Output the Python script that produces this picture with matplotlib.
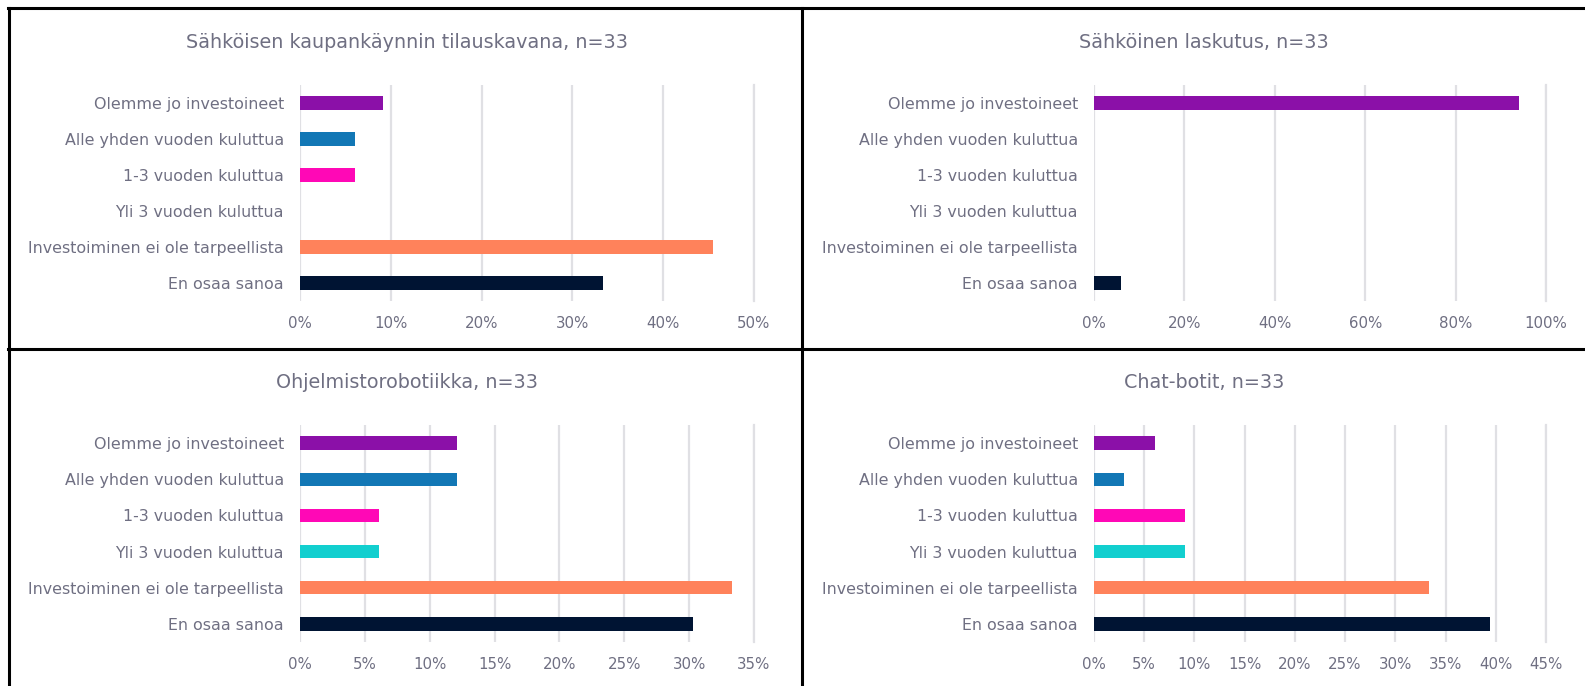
import matplotlib
matplotlib.use("Agg")
import matplotlib.pyplot as plt
from matplotlib.lines import Line2D
from matplotlib.ticker import PercentFormatter

# answer categories (top to bottom) and their bar colours
categories = ["Olemme jo investoineet", "Alle yhden vuoden kuluttua",
              "1-3 vuoden kuluttua", "Yli 3 vuoden kuluttua",
              "Investoiminen ei ole tarpeellista", "En osaa sanoa"]
colors = ["#8b10a8", "#1277b5", "#ff08b6", "#12cfcf", "#ff825b", "#001433"]

n = 33
# share of respondents, percent
tilauskanava = [9.09, 6.06, 6.06, 0.0, 45.45, 33.33]
laskutus = [93.94, 0.0, 0.0, 0.0, 0.0, 6.06]
robotiikka = [12.12, 12.12, 6.06, 6.06, 33.33, 30.30]
chatbotit = [6.06, 3.03, 9.09, 9.09, 33.33, 39.39]

titles = ["Sähköisen kaupankäynnin tilauskavana", "Sähköinen laskutus",
          "Ohjelmistorobotiikka", "Chat-botit"]
series = [tilauskanava, laskutus, robotiikka, chatbotit]
ticks = [[0, 10, 20, 30, 40, 50], [0, 20, 40, 60, 80, 100],
         [0, 5, 10, 15, 20, 25, 30, 35], [0, 5, 10, 15, 20, 25, 30, 35, 40, 45]]

W, H = 1585, 686
TXT = "#6f6f82"
GRID = "#e0e0e4"

fig = plt.figure(figsize=(W / 100, H / 100), dpi=100)

# axes boxes in pixels: left, right, top, bottom
boxes = [(300, 754, 85, 301), (1094, 1546, 85, 301),
         (300, 754, 425, 642), (1094, 1546, 425, 642)]
title_pos = [(407, 42.5), (1204, 42.5), (407, 382), (1204, 382)]

for vals, title, tk, (l, r, t, b), (tx, ty) in zip(series, titles, ticks, boxes, title_pos):
    ax = fig.add_axes([l / W, 1 - b / H, (r - l) / W, (b - t) / H])
    y = range(len(categories))
    ax.barh(y, vals, height=0.37, color=colors, zorder=3)
    ax.set_ylim(5.5, -0.5)
    ax.set_xlim(0, tk[-1])
    ax.set_xticks(tk)
    ax.xaxis.set_major_formatter(PercentFormatter(decimals=0))
    ax.set_yticks(list(y))
    ax.set_yticklabels(categories, fontsize=11.4)
    ax.grid(axis="x", color=GRID, lw=1.6, zorder=0)
    ax.set_axisbelow(True)
    for s in ax.spines.values():
        s.set_visible(False)
    ax.tick_params(length=0, labelcolor=TXT)
    ax.tick_params(axis="x", pad=11, labelsize=10.8)
    ax.tick_params(axis="y", pad=11.5)
    # keep the last gridline visible at the right edge
    ax.axvline(tk[-1], color=GRID, lw=1.6, zorder=0, clip_on=False)
    fig.text(tx / W, 1 - ty / H, f"{title}, n={n}", ha="center", va="center",
             fontsize=13.8, color=TXT)

# panel frame
frame = dict(color="black", lw=2.2)
for (x0, y0, x1, y1) in [(8, 8, W, 8), (8, 349, W, 349), (9, 8, 9, H), (802, 8, 802, H)]:
    fig.add_artist(Line2D([x0 / W, x1 / W], [1 - y0 / H, 1 - y1 / H], **frame))

fig.savefig("out.png", dpi=100)
